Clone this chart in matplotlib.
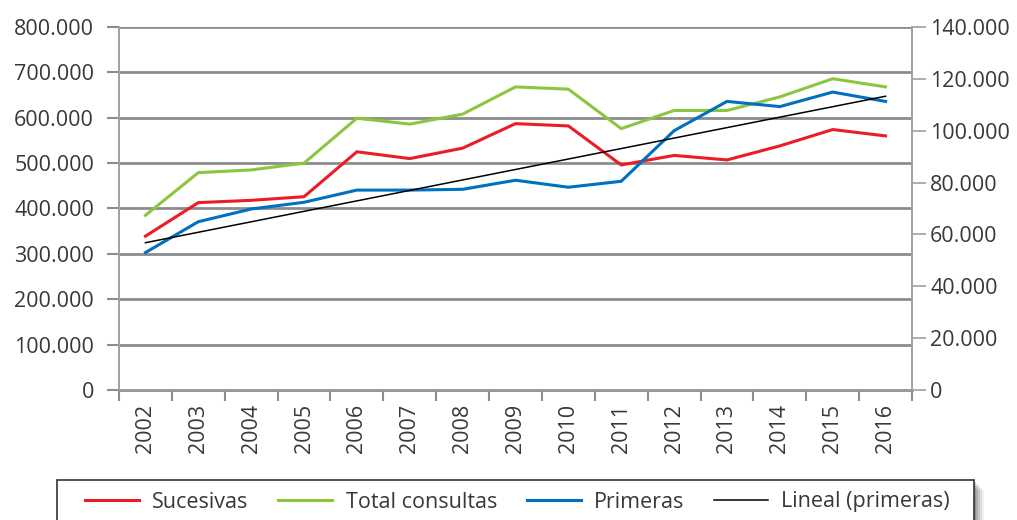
import numpy as np
import matplotlib
matplotlib.use('Agg')
import matplotlib.pyplot as plt
from matplotlib.patches import Rectangle
from matplotlib.ticker import FuncFormatter, FixedLocator

plt.rcParams['font.family'] = ['Open Sans', 'DejaVu Sans']

# data
years = ['2002', '2003', '2004', '2005', '2006', '2007', '2008', '2009',
         '2010', '2011', '2012', '2013', '2014', '2015', '2016']
sucesivas = [339000, 413000, 418000, 426000, 525000, 510000, 533000, 587000,
             582000, 496000, 517000, 507000, 538000, 574000, 560000]
total = [385000, 479000, 485000, 500000, 599000, 586000, 608000, 668000,
         663000, 576000, 616000, 616000, 646000, 686000, 668000]
primeras = [53000, 64900, 69800, 72400, 77100, 77100, 77400, 80900,
            78200, 80500, 100000, 111300, 109300, 114900, 111300]
# trend line (right axis), start and end values
lineal_years = ['2002', '2016']
lineal = [56800, 113300]

RED = '#ED1C24'
GREEN = '#8CC63F'
BLUE = '#0070C0'
TXT = '#383838'
GRID = '#8C8C8E'
FS = 15.5
W, H = 1017, 520

def dots(v, pos):
    return '{:,}'.format(int(round(v))).replace(',', '.')

x = np.arange(len(years))
xl = [years.index(y) for y in lineal_years]

fig = plt.figure(figsize=(W / 100, H / 100), dpi=100)
ax1 = fig.add_axes([119/W, 1 - 390/H, (912 - 119)/W, (390 - 27)/H])
ax2 = ax1.twinx()

l1, = ax1.plot(x, sucesivas, color=RED, lw=2.2, label='Sucesivas')
l2, = ax1.plot(x, total, color=GREEN, lw=2.2, label='Total consultas')
l3, = ax2.plot(x, primeras, color=BLUE, lw=2.2, label='Primeras')
l4, = ax2.plot(xl, lineal, color='black', lw=1.1, label='Lineal (primeras)')

ax1.set_xlim(-0.5, len(years) - 0.5)
ax1.set_ylim(0, 800000)
ax2.set_ylim(0, 140000)
ax1.set_yticks(np.arange(0, 800001, 100000))
ax2.set_yticks(np.arange(0, 140001, 20000))
ax1.yaxis.set_major_formatter(FuncFormatter(dots))
ax2.yaxis.set_major_formatter(FuncFormatter(dots))

# category ticks on boundaries, labels centred
ax1.xaxis.set_major_locator(FixedLocator(np.arange(-0.5, len(years), 1.0)))
ax1.xaxis.set_minor_locator(FixedLocator(x))
ax1.set_xticklabels([], minor=False)
ax1.set_xticklabels(years, minor=True, rotation=90)
ax1.tick_params(axis='x', which='minor', length=0, pad=10, labelsize=FS,
                labelcolor=TXT)
ax1.tick_params(axis='x', which='major', length=8, width=1.5, color=GRID)

ax1.grid(axis='y', color=GRID, lw=2)
ax1.set_axisbelow(True)

for a in (ax1, ax2):
    a.tick_params(axis='y', labelsize=FS, labelcolor=TXT)
    a.spines['top'].set_visible(False)
    for s in ('left', 'right', 'bottom'):
        a.spines[s].set_color('#A0A0A0')
        a.spines[s].set_linewidth(1.2)
ax1.tick_params(axis='y', length=9, width=1.5, color=GRID, pad=9)
ax2.tick_params(axis='y', length=10, width=1.2, color='#A0A0A0', pad=3)
ax1.spines['bottom'].set_color(GRID)
ax1.spines['bottom'].set_linewidth(2)

# legend box drawn by hand (it runs off the bottom of the picture)
bx0, bx1, by = 57, 974, 480
# soft shadow: a few stacked, offset rectangles
for off, a in [(10, 0.06), (8, 0.08), (6, 0.10), (4, 0.12), (2, 0.14)]:
    fig.add_artist(Rectangle(((bx0 + off)/W, -0.2), (bx1 - bx0)/W,
                             1 - by/H + 0.2 - off/H,
                             transform=fig.transFigure, facecolor='black',
                             alpha=a, edgecolor='none', zorder=1))
fig.add_artist(Rectangle((bx0/W, -0.2), (bx1 - bx0)/W, 1 - by/H + 0.2,
                         transform=fig.transFigure, facecolor='white',
                         edgecolor='#333333', lw=1.2, zorder=2))

leg = fig.legend(handles=[l1, l2, l3, l4], loc='center left',
                 bbox_to_anchor=(85/W, 1 - 502/H, (950 - 85)/W, 0.0),
                 mode='expand', ncol=4, fontsize=FS, frameon=False,
                 handlelength=2.5, handletextpad=0.62, columnspacing=1.4,
                 borderaxespad=0, borderpad=0, labelcolor=TXT)
leg.set_zorder(3)

fig.savefig('out.png', dpi=100)
